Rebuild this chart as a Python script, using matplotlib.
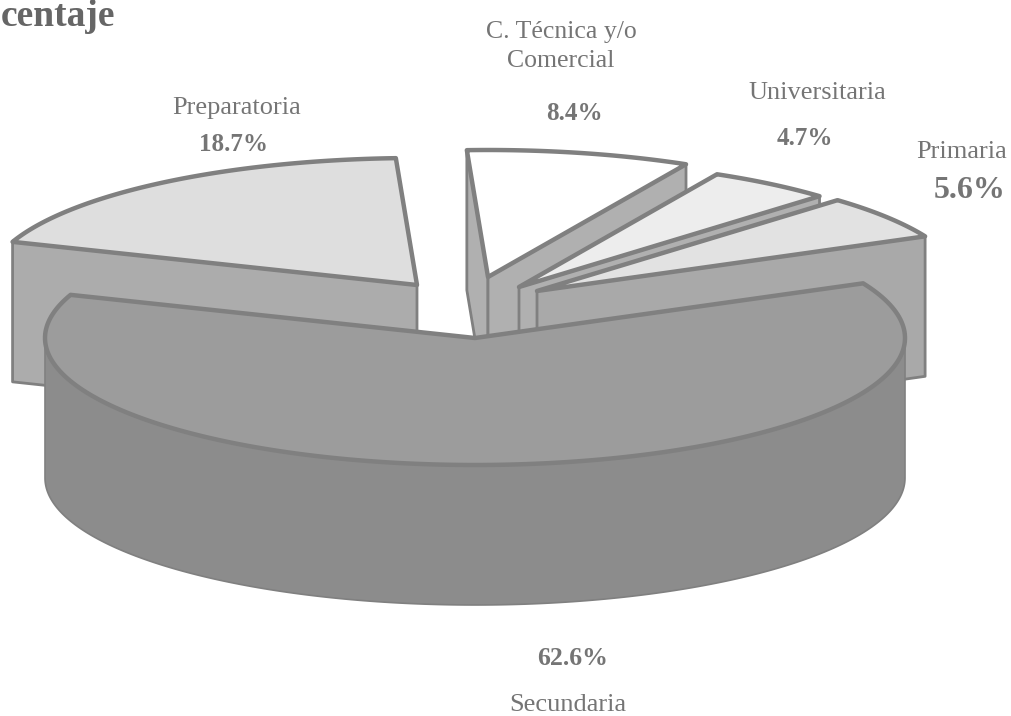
import numpy as np
import matplotlib
matplotlib.use('Agg')
import matplotlib.pyplot as plt
from matplotlib.patches import Polygon

# Porcentajes por nivel de estudios, en el orden en que se apilan los sectores
niveles = ["Primaria", "Universitaria", "C. Técnica y/o\nComercial", "Preparatoria", "Secundaria"]
porcentajes = [5.6, 4.7, 8.4, 18.7, 62.6]

# Vértice de cada sector en la figura (píxeles)
vertices = [(537, 291), (519, 287), (488, 277), (417, 285), (475, 338)]
color_tapa = ['#e2e2e2', '#ededed', '#ffffff', '#dedede', '#9c9c9c']
color_pared = ['#a9a9a9', '#b0b0b0', '#b0b0b0', '#acacac', '#8c8c8c']

RX, RY = 430, 127
PROF = 140
INICIO = 25.5
BORDE = '#808080'

fig = plt.figure(figsize=(10.12, 7.16), dpi=100)
ax = fig.add_axes([0, 0, 1, 1])
ax.set_xlim(0, 1012)
ax.set_ylim(716, 0)
ax.axis('off')


def punto(v, ang):
    a = np.radians(ang)
    return np.array([v[0] + RX * np.cos(a), v[1] - RY * np.sin(a)])


def pared(puntos, color, lw=2.0):
    puntos = np.array(puntos)
    abajo = puntos[::-1] + [0, PROF]
    ax.add_patch(Polygon(np.vstack([puntos, abajo]), closed=True, fc=color,
                         ec=BORDE, lw=lw, joinstyle='round'))


# Orden de dibujo: de atrás hacia delante, cada sector tapa al anterior
orden = [2, 1, 0, 3, 4]
limites = INICIO + np.concatenate([[0], np.cumsum(porcentajes)]) * 3.6

for i in orden:
    v = vertices[i]
    a1, a2 = limites[i], limites[i + 1]
    if np.cos(np.radians(a2)) < 0:
        pared([v, punto(v, a2)], color_pared[i])
    if np.cos(np.radians(a1)) > 0:
        pared([v, punto(v, a1)], color_pared[i])
    # Pared curva: solo la mitad inferior de la elipse queda a la vista
    b1, b2 = max(a1, 180), min(a2, 360)
    if b2 > b1:
        arco = [punto(v, t) for t in np.linspace(b1, b2, 200)]
        pared(arco, color_pared[i], lw=1.2)
    tapa = [v] + [punto(v, t) for t in np.linspace(a1, a2, 200)]
    ax.add_patch(Polygon(tapa, closed=True, fc=color_tapa[i], ec=BORDE, lw=3.2,
                         joinstyle='round'))

serif = 'Liberation Serif'
gris = '#757575'
ax.text(1, 26, "centaje", family=serif, weight='bold', size=27, color='#666666',
        ha='left', va='baseline')

# Nombre y porcentaje de cada nivel
pos_nombre = [(962, 158), (817, 99), (561, 67), (237, 114), (568, 711)]
pos_valor = [(970, 198), (805, 145), (574, 120), (234, 151), (573, 665)]
tam_valor = [23, 18, 18, 18, 18.5]
tam_nombre = [19, 19, 18.5, 19, 19]
for i in range(len(niveles)):
    ax.text(*pos_nombre[i], niveles[i], family=serif, size=tam_nombre[i], color=gris,
            ha='center', va='baseline', linespacing=1.4)
    ax.text(*pos_valor[i], f"{porcentajes[i]}%", family=serif, weight='bold',
            size=tam_valor[i], color=gris, ha='center', va='baseline')

fig.savefig('out.png', dpi=100)
plt.close()
